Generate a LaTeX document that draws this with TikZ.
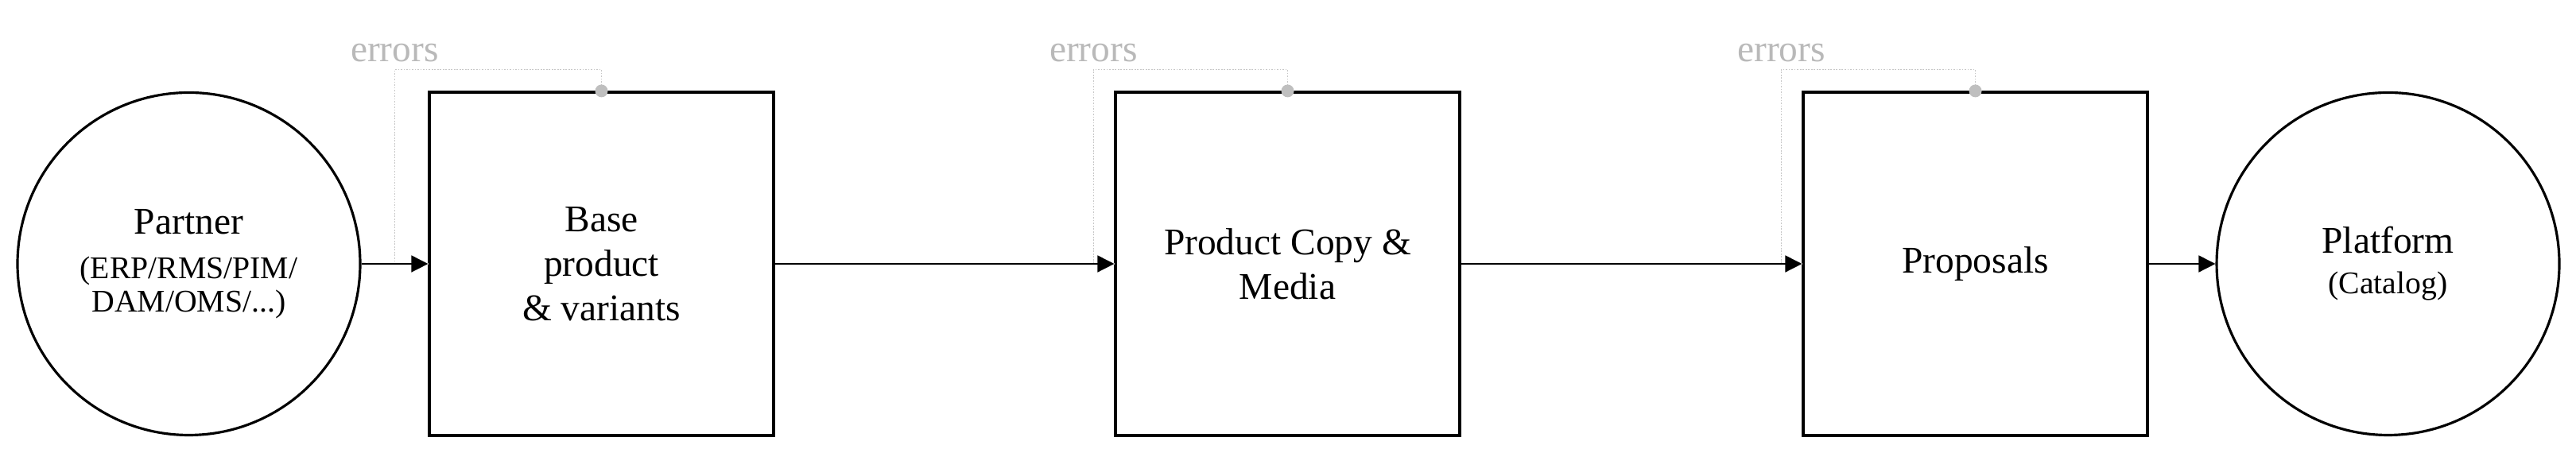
\documentclass[tikz,border=0pt]{standalone}
\usepackage{fontspec}
\setmainfont{Liberation Serif}
\usepackage{tikz}
\usetikzlibrary{positioning,arrows.meta}

\begin{document}
\begin{tikzpicture}
        [every node/.style={draw,line width=0.9pt,align=center,inner sep=0pt,font=\fontsize{13.5}{16}\selectfont},
         sys/.style={circle,minimum size=4.31cm},
         stage/.style={rectangle,minimum width=4.33cm,minimum height=4.32cm},
         flow/.style={line width=0.45pt,-{Triangle[length=0.21cm,width=0.21cm]}},
         errline/.style={black!22,line width=0.35pt,dash pattern=on 0.5pt off 0.5pt},
         errlabel/.style={draw=none,text=gray!55,anchor=base}]
        \useasboundingbox (0,0) rectangle (32.4,5.7);

        \node[sys] (partner) at (2.375, 2.38) {Partner\\\fontsize{11.3}{11.8}\selectfont (ERP/RMS/PIM/\\[-4.2pt]\fontsize{11.3}{11.8}\selectfont DAM/OMS/...)};

        \node[stage] (base) at (7.565, 2.38) {Base\\product\\\& variants};
        \node[stage] (copy) at (16.195, 2.38) {Product Copy \&\\Media};
        \node[stage] (prop) at (24.845, 2.38) {Proposals};

        \node[sys] (platform) at (30.035, 2.38) {Platform\\[-1.5pt]\fontsize{11.3}{11.8}\selectfont (Catalog)};

        % error loops back into each stage
        \foreach \s/\off in {base/0.42, copy/0.26, prop/0.26} {
            \draw[errline] (\s.north) -- ++(0,0.27) -| ([xshift=-\off cm]\s.west) -- (\s.west);
            \fill[black!25] (\s.north) circle (0.08);
            \node[errlabel] (err-\s) at ([xshift=-\off cm,yshift=0.37cm]\s.north west) {errors};
        }

        \foreach \from/\to in {partner/base, base/copy, copy/prop, prop/platform}
            \draw[flow] (\from) -- (\to);

      \end{tikzpicture}
\end{document}
